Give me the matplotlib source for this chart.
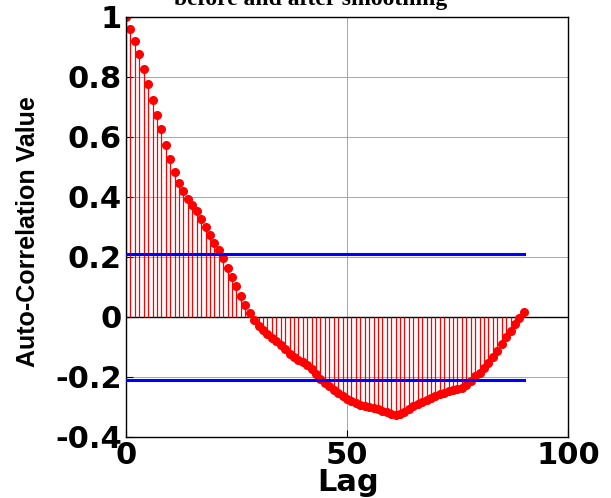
import numpy as np
import matplotlib
matplotlib.use("Agg")
import matplotlib.pyplot as plt

plt.rcParams['axes.unicode_minus'] = False

# ─── DATA ───────────────────────────────────────────────────────────────────
lags = np.arange(91)
acf = [
    1.000, 0.959, 0.921, 0.876, 0.827, 0.776, 0.724, 0.673, 0.625, 0.574,
    0.527, 0.483, 0.447, 0.419, 0.394, 0.372, 0.352, 0.328, 0.300, 0.272,
    0.248, 0.223, 0.195, 0.164, 0.134, 0.104, 0.071, 0.041, 0.013, -0.009,
    -0.030, -0.045, -0.058, -0.070, -0.080, -0.092, -0.108, -0.122, -0.133, -0.142,
    -0.150, -0.160, -0.172, -0.190, -0.207, -0.220, -0.230, -0.242, -0.253, -0.265,
    -0.274, -0.281, -0.288, -0.293, -0.297, -0.300, -0.304, -0.308, -0.313, -0.318,
    -0.323, -0.327, -0.325, -0.316, -0.307, -0.298, -0.290, -0.283, -0.276, -0.269,
    -0.263, -0.257, -0.252, -0.248, -0.245, -0.241, -0.236, -0.226, -0.212, -0.198,
    -0.186, -0.171, -0.155, -0.135, -0.113, -0.091, -0.068, -0.046, -0.022, -0.004,
    0.015,
]
conf_bound = 0.21
conf_span = [0, 90]
xticks = [0, 50, 100]
yticks = [-0.4, -0.2, 0, 0.2, 0.4, 0.6, 0.8, 1]
ytick_labels = ['-0.4', '-0.2', '0', '0.2', '0.4', '0.6', '0.8', '1']

# ─── PLOT ───────────────────────────────────────────────────────────────────
fig = plt.figure(figsize=(6.11, 4.98), dpi=100)
ax = fig.add_axes([0.2062, 0.1225, 0.7234, 0.8434])

ax.grid(True, color='0.65', lw=0.7, ls='-')
ax.set_axisbelow(True)

markers, stems, base = ax.stem(lags, acf, linefmt='r-', markerfmt='ro')
stems.set_linewidth(0.9)
markers.set_markersize(5.5)
base.set_visible(False)
ax.axhline(0, color='k', lw=1.0, zorder=1.5)

# confidence bounds
ax.plot(conf_span, [conf_bound, conf_bound], color='#0000ff', lw=2.2, zorder=3)
ax.plot(conf_span, [-conf_bound, -conf_bound], color='#0000ff', lw=2.2, zorder=3)

ax.set_xlim(0, 100)
ax.set_ylim(-0.4, 1)
ax.set_xticks(xticks)
ax.set_yticks(yticks)
ax.set_yticklabels(ytick_labels)
ax.tick_params(direction='in', length=5, width=0.8, labelsize=22, pad=3)
for lab in ax.get_xticklabels() + ax.get_yticklabels():
    lab.set_family('DejaVu Sans')
    lab.set_fontweight('bold')
for sp in ax.spines.values():
    sp.set_edgecolor('k')
    sp.set_linewidth(1.0)

fig.text(348 / 611, 1 - 491 / 498, 'Lag', ha='center', va='baseline',
         family='DejaVu Sans', fontweight='bold', fontsize=22)
fig.text(28 / 611, 1 - 232 / 498, 'Auto-Correlation Value', rotation=90,
         ha='center', va='center', family='Liberation Sans',
         fontweight='bold', fontsize=18)
# title sits partly above the top edge, as in the reference
fig.text(311 / 611, 1 - 5 / 498, 'before and after smoothing', ha='center',
         va='baseline', family='Liberation Serif', fontweight='bold', fontsize=17)

fig.savefig('out.png', dpi=100, facecolor='white')
